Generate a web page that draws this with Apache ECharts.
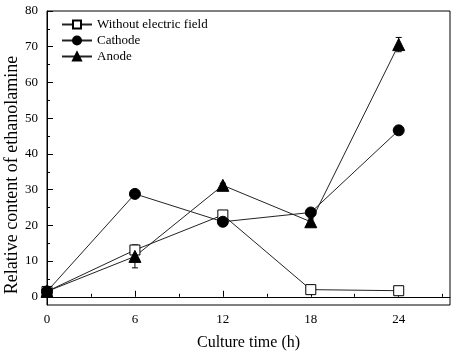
<!DOCTYPE html>
<html>
<head>
<meta charset="utf-8">
<script src="https://cdn.jsdelivr.net/npm/echarts@6/dist/echarts.min.js"></script>
<style>
  html, body { margin: 0; padding: 0; background: #fff; }
  #chart { width: 454px; height: 355px; }
</style>
</head>
<body>
<div id="chart"></div>
<script>
// culture time (h)
const hours = [0, 6, 12, 18, 24];
const xTicks = [0, 6, 12, 18, 24];
const xMinor = [3, 9, 15, 21, 27];
const yTicks = [0, 10, 20, 30, 40, 50, 60, 70, 80];
const yMinor = [5, 15, 25, 35, 45, 55, 65, 75];

const noField = [1.5, 13.1, 22.9, 2.0, 1.7];
const noFieldErr = [0.5, 1.3, 1.2, 0.3, 0.8];
const cathode = [1.5, 28.8, 21.0, 23.6, 46.6];
const cathodeErr = [0.5, 0.5, 0.5, 0.8, 1.1];
const anode = [1.5, 11.3, 31.2, 21.0, 70.6];
const anodeErr = [0.5, 3.2, 0.6, 0.8, 2.0];

const font = 'Liberation Serif';

// 误差棒
function errSeries(vals, errs) {
  return {
    type: 'custom',
    silent: true,
    z: 1,
    data: hours.map((h, i) => [h, vals[i], errs[i]]),
    renderItem: function (params, api) {
      const x = api.value(0), y = api.value(1), e = api.value(2);
      const top = api.coord([x, y + e]);
      const bot = api.coord([x, y - e]);
      const w = 3;
      const st = { stroke: '#000', lineWidth: 1, fill: null };
      return {
        type: 'group',
        children: [
          { type: 'line', shape: { x1: top[0], y1: top[1], x2: bot[0], y2: bot[1] }, style: st },
          { type: 'line', shape: { x1: top[0] - w, y1: top[1], x2: top[0] + w, y2: top[1] }, style: st },
          { type: 'line', shape: { x1: bot[0] - w, y1: bot[1], x2: bot[0] + w, y2: bot[1] }, style: st }
        ]
      };
    }
  };
}

function lineSeries(name, vals, symbol, size, fill) {
  return {
    name: name,
    type: 'line',
    z: 3,
    data: hours.map((h, i) => [h, vals[i]]),
    symbol: symbol,
    symbolSize: size,
    showAllSymbol: true,
    lineStyle: { color: '#222', width: 1 },
    itemStyle: { color: fill, borderColor: '#000', borderWidth: 1 }
  };
}

const chart = echarts.init(document.getElementById('chart'));
chart.setOption({
  animation: false,
  grid: {
    left: 47, right: 4, top: 11, bottom: 50,
    outerBoundsMode: 'none',
    show: true, borderColor: '#000', borderWidth: 1
  },
  legend: {
    left: 56, top: 13, orient: 'vertical',
    itemWidth: 30, itemHeight: 10, itemGap: 3,
    textStyle: { fontFamily: font, fontSize: 13, color: '#000' },
    data: ['Without electric field', 'Cathode', 'Anode']
  },
  // y轴标题（位置比轴中点偏下）
  graphic: [{
    type: 'text',
    x: 12, y: 175,
    rotation: Math.PI / 2,
    style: {
      text: 'Relative content of ethanolamine',
      font: '18px "Liberation Serif"',
      fill: '#000',
      align: 'center',
      verticalAlign: 'middle'
    }
  }],
  xAxis: [{
    type: 'value', min: 0, max: 27.5,
    name: 'Culture time (h)', nameLocation: 'middle', nameGap: 30,
    nameTextStyle: { fontFamily: font, fontSize: 16, color: '#000' },
    axisLine: { lineStyle: { color: '#000' } },
    axisTick: { inside: true, length: 6, customValues: xTicks, lineStyle: { color: '#000' } },
    axisLabel: { customValues: xTicks, margin: 8, fontFamily: font, fontSize: 13, color: '#000' },
    splitLine: { show: false }
  }, {
    type: 'value', min: 0, max: 27.5, position: 'bottom',
    axisLine: { show: false },
    axisTick: { inside: true, length: 3, customValues: xMinor, lineStyle: { color: '#000' } },
    axisLabel: { show: false },
    splitLine: { show: false }
  }],
  yAxis: [{
    type: 'value', min: -2.3, max: 80,
    axisLine: { show: true, lineStyle: { color: '#000' } },
    axisTick: { show: true, inside: true, length: 6, customValues: yTicks, lineStyle: { color: '#000' } },
    axisLabel: { customValues: yTicks, margin: 9, fontFamily: font, fontSize: 13, color: '#000' },
    splitLine: { show: false }
  }, {
    type: 'value', min: -2.3, max: 80, position: 'left',
    axisLine: { show: false },
    axisTick: { show: true, inside: true, length: 3, customValues: yMinor, lineStyle: { color: '#000' } },
    axisLabel: { show: false },
    splitLine: { show: false }
  }],
  series: [
    errSeries(noField, noFieldErr),
    errSeries(cathode, cathodeErr),
    errSeries(anode, anodeErr),
    lineSeries('Without electric field', noField, 'rect', 10, '#fff'),
    lineSeries('Cathode', cathode, 'circle', 11, '#000'),
    lineSeries('Anode', anode, 'triangle', 12, '#000')
  ]
});
</script>
</body>
</html>
